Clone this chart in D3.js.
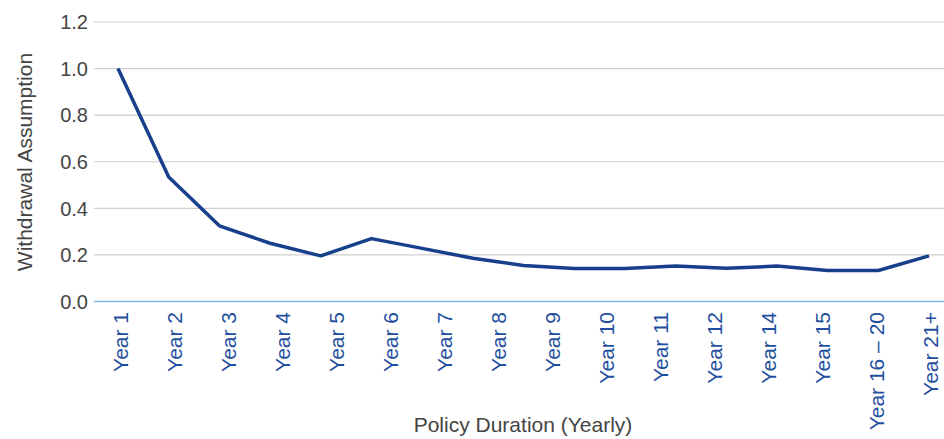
<!DOCTYPE html>
<html>
<head>
<meta charset="utf-8">
<script src="https://cdn.jsdelivr.net/npm/d3@7"></script>
<style>
  body { margin: 0; background: #fff; }
  text { font-family: "Liberation Sans", Arial, sans-serif; }
</style>
</head>
<body>
<div id="G"></div>
<script>
// tick labels shown under the axis (16 of them)
var yearLabels = ["Year 1", "Year 2", "Year 3", "Year 4", "Year 5", "Year 6", "Year 7", "Year 8",
  "Year 9", "Year 10", "Year 11", "Year 12", "Year 14", "Year 15", "Year 16 \u2013 20", "Year 21+"];
// line values (17 points in the source chart)
var withdrawal = [1.0, 0.535, 0.325, 0.25, 0.196, 0.27, 0.228, 0.186, 0.155, 0.142,
  0.142, 0.152, 0.143, 0.152, 0.133, 0.133, 0.196];
var yTicks = [0, 0.2, 0.4, 0.6, 0.8, 1.0, 1.2];

var width = 944, height = 439;

var svg = d3.select("#G")
  .append("svg")
  .attr("width", width)
  .attr("height", height);

var y = d3.scaleLinear()
  .domain([0, 1.2])
  .range([301.5, 22]);

// points for the line
var xLine = d3.scaleLinear()
  .domain([0, withdrawal.length - 1])
  .range([118, 929]);

// labels
var xLab = d3.scalePoint()
  .domain(yearLabels)
  .range([120, 930]);

// gridlines
svg.append("g")
  .selectAll("line")
  .data(yTicks.slice(1))
  .join("line")
  .attr("x1", 94)
  .attr("x2", width)
  .attr("y1", d => y(d))
  .attr("y2", d => y(d))
  .attr("stroke", "#cfcfcf")
  .attr("stroke-width", 1.2);

// y labels
svg.append("g")
  .selectAll("text")
  .data(yTicks)
  .join("text")
  .attr("x", 88)
  .attr("y", d => y(d))
  .attr("dy", "0.36em")
  .attr("text-anchor", "end")
  .attr("font-size", 20)
  .attr("fill", "#444")
  .text(d => d.toFixed(1));

// baseline
svg.append("line")
  .attr("x1", 94)
  .attr("x2", width)
  .attr("y1", y(0))
  .attr("y2", y(0))
  .attr("stroke", "#7db9e4")
  .attr("stroke-width", 1.5);

// x labels, rotated
svg.append("g")
  .selectAll("text")
  .data(yearLabels)
  .join("text")
  .attr("transform", d => "translate(" + (xLab(d) + 8) + ",312) rotate(-90)")
  .attr("text-anchor", "end")
  .attr("font-size", 21)
  .attr("fill", "#1f4f9e")
  .text(d => d);

// the line
svg.append("path")
  .datum(withdrawal)
  .attr("fill", "none")
  .attr("stroke", "#173f8c")
  .attr("stroke-width", 3.5)
  .attr("stroke-linejoin", "round")
  .attr("d", d3.line()
    .x((d, i) => xLine(i))
    .y(d => y(d)));

// axis titles
svg.append("text")
  .attr("transform", "translate(32,162) rotate(-90)")
  .attr("text-anchor", "middle")
  .attr("font-size", 21)
  .attr("fill", "#444")
  .text("Withdrawal Assumption");

svg.append("text")
  .attr("x", 523)
  .attr("y", 432)
  .attr("text-anchor", "middle")
  .attr("font-size", 21)
  .attr("fill", "#444")
  .text("Policy Duration (Yearly)");
</script>
</body>
</html>
